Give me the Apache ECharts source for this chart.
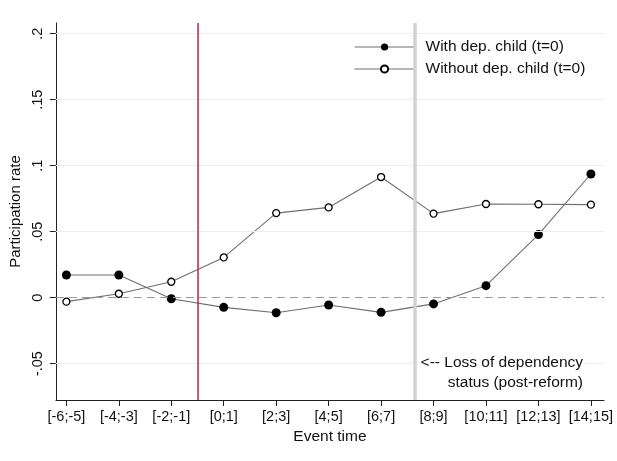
<!DOCTYPE html>
<html>
<head>
<meta charset="utf-8">
<script src="https://cdn.jsdelivr.net/npm/echarts@6/dist/echarts.min.js"></script>
<style>
  html, body { margin: 0; padding: 0; background: #fff; }
  #chart { width: 617px; height: 461px; }
</style>
</head>
<body>
<div id="chart"></div>
<script>
// Event-time bins on the x axis
const categories = ['[-6;-5]', '[-4;-3]', '[-2;-1]', '[0;1]', '[2;3]', '[4;5]', '[6;7]', '[8;9]', '[10;11]', '[12;13]', '[14;15]'];

// Participation rate by group
const withChild = [0.0172, 0.0172, -0.0008, -0.0073, -0.0114, -0.0055, -0.0111, -0.0047, 0.0091, 0.0478, 0.0937];
const withoutChild = [-0.003, 0.003, 0.0121, 0.0305, 0.0641, 0.0684, 0.0914, 0.0637, 0.071, 0.0708, 0.0705];

// Y-axis tick values
const yTicks = [-0.05, 0, 0.05, 0.1, 0.15, 0.2];

// Reference lines (positions on the event-time index scale)
const reformLine = 2.5;
const dependencyLossLine = 6.65;

const FONT = 'Liberation Sans, Arial, sans-serif';
const xTicks = categories.map((_, i) => i);
const toPairs = arr => arr.map((v, i) => [i, v]);
const stataNum = v => {
  if (v === 0) return '0';
  return String(v).replace(/^(-?)0\./, '$1.');
};

const chart = echarts.init(document.getElementById('chart'), null, { renderer: 'canvas' });

chart.setOption({
  animation: false,
  backgroundColor: '#fff',
  textStyle: { fontFamily: FONT },
  grid: { left: 53, top: 23, width: 551, height: 377, containLabel: false },
  xAxis: {
    type: 'value',
    min: -0.2,
    max: 10.25,
    name: 'Event time',
    nameLocation: 'middle',
    nameGap: 29,
    nameTextStyle: { fontSize: 15.5, color: '#111', fontFamily: FONT },
    axisLine: { show: true, onZero: false, lineStyle: { color: '#222', width: 1 } },
    axisTick: { show: true, length: 6, inside: false, customValues: xTicks, lineStyle: { color: '#222' } },
    axisLabel: {
      customValues: xTicks,
      formatter: v => categories[Math.round(v)] || '',
      fontSize: 14.5,
      color: '#111',
      margin: 9,
      fontFamily: FONT
    },
    splitLine: { show: false }
  },
  yAxis: {
    type: 'value',
    min: -0.0775,
    max: 0.2081,
    name: 'Participation rate',
    nameLocation: 'middle',
    nameGap: 27,
    nameRotate: 90,
    nameTextStyle: { fontSize: 15, color: '#111', fontFamily: FONT },
    axisLine: { show: true, onZero: false, lineStyle: { color: '#222', width: 1 } },
    axisTick: { show: true, length: 6, customValues: yTicks, lineStyle: { color: '#222' } },
    axisLabel: {
      customValues: yTicks,
      formatter: stataNum,
      rotate: 90,
      fontSize: 14.5,
      color: '#111',
      margin: 10,
      fontFamily: FONT
    },
    splitLine: { show: false }
  },
  legend: {
    orient: 'vertical',
    left: 349,
    top: 34,
    itemWidth: 60,
    itemHeight: 9,
    itemGap: 6,
    lineStyle: { width: 1.1, color: '#6e6e6e' },
    textStyle: { fontSize: 15.5, color: '#111', fontFamily: FONT, padding: [0, 0, 0, 6] },
    data: ['With dep. child (t=0)', 'Without dep. child (t=0)']
  },
  series: [
    {
      // horizontal grid lines at each y tick
      type: 'line',
      data: [],
      silent: true,
      markLine: {
        silent: true,
        symbol: 'none',
        label: { show: false },
        lineStyle: { color: '#e8eff2', width: 1, type: 'solid' },
        data: yTicks.filter(v => v !== 0).map(v => ({ yAxis: v }))
      },
      z: 0
    },
    {
      // reference lines: zero, reform, loss of dependency status
      type: 'line',
      data: [],
      silent: true,
      markLine: {
        silent: true,
        symbol: 'none',
        label: { show: false },
        data: [
          { yAxis: 0, lineStyle: { color: '#9a9a9a', width: 1, type: [8, 5] } },
          { xAxis: reformLine, lineStyle: { color: '#c0224a', width: 1.5, type: 'solid' } },
          { xAxis: dependencyLossLine, lineStyle: { color: '#d2d2d2', width: 3.5, type: 'solid' } }
        ]
      },
      z: 1
    },
    {
      name: 'With dep. child (t=0)',
      type: 'line',
      data: toPairs(withChild),
      symbol: 'circle',
      symbolSize: 9,
      showAllSymbol: true,
      lineStyle: { color: '#6e6e6e', width: 1.1 },
      itemStyle: { color: '#000', borderColor: '#000', borderWidth: 0 },
      z: 3
    },
    {
      name: 'Without dep. child (t=0)',
      type: 'line',
      data: toPairs(withoutChild),
      symbol: 'circle',
      symbolSize: 7,
      showAllSymbol: true,
      lineStyle: { color: '#6e6e6e', width: 1.1 },
      itemStyle: { color: '#fff', borderColor: '#000', borderWidth: 1.3 },
      z: 3
    }
  ],
  graphic: [
    {
      type: 'text',
      right: 617 - 585,
      top: 355,
      z: 10,
      style: {
        text: '<-- Loss of dependency',
        fontSize: 15.5, fill: '#111', fontFamily: FONT,
        backgroundColor: '#fff', padding: [0, 2, 0, 2]
      }
    },
    {
      type: 'text',
      right: 617 - 585,
      top: 375,
      z: 10,
      style: {
        text: 'status (post-reform)',
        fontSize: 15.5, fill: '#111', fontFamily: FONT,
        backgroundColor: '#fff', padding: [0, 2, 0, 2]
      }
    }
  ]
});
</script>
</body>
</html>
